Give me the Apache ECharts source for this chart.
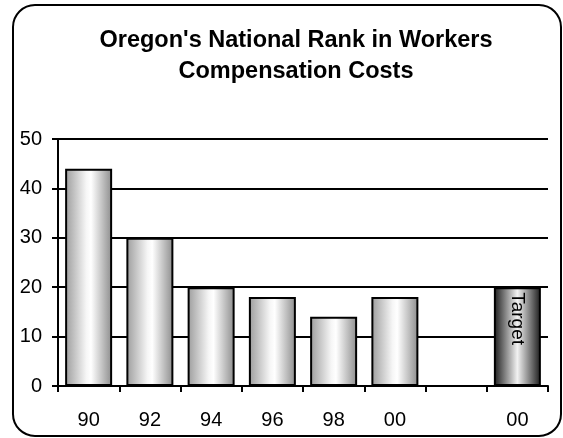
<!DOCTYPE html>
<html>
<head>
<meta charset="utf-8">
<script src="https://cdn.jsdelivr.net/npm/echarts@6/dist/echarts.min.js"></script>
<style>
  html, body { margin: 0; padding: 0; background: #fff; }
  #chart { width: 563px; height: 438px; }
</style>
</head>
<body>
<div id="chart"></div>
<script>
// Survey years (two-digit) plus a gap and the target column
const years = ['90', '92', '94', '96', '98', '00', '', '00'];
// National rank for each year
const rankValues = [44, 30, 20, 18, 14, 18, null, null];
// Target rank shown in the last column
const targetValues = [null, null, null, null, null, null, null, 20];
const yTicks = { min: 0, max: 50, step: 10 };

const FONT = '"Liberation Sans", Arial, sans-serif';

const silver = {
  type: 'linear', x: 0, y: 0, x2: 1, y2: 0,
  colorStops: [
    { offset: 0, color: '#9c9c9c' },
    { offset: 0.45, color: '#f6f6f6' },
    { offset: 0.55, color: '#ffffff' },
    { offset: 1, color: '#8c8c8c' }
  ]
};
const darkSilver = {
  type: 'linear', x: 0, y: 0, x2: 1, y2: 0,
  colorStops: [
    { offset: 0, color: '#1a1a1a' },
    { offset: 0.5, color: '#f2f2f2' },
    { offset: 1, color: '#1a1a1a' }
  ]
};

const chart = echarts.init(document.getElementById('chart'));
chart.setOption({
  animation: false,
  backgroundColor: '#fff',
  title: {
    text: "Oregon's National Rank in Workers\nCompensation Costs",
    left: 291,
    textAlign: 'center',
    top: 20,
    textStyle: { fontFamily: FONT, fontSize: 23.5, fontWeight: 'bold', color: '#000', lineHeight: 31 }
  },
  graphic: [{
    type: 'rect',
    shape: { x: 13, y: 5, width: 548, height: 431, r: 22 },
    style: { fill: 'none', stroke: '#000', lineWidth: 2 },
    silent: true,
    z: 100
  }],
  grid: { left: 58, right: 15, top: 139, bottom: 52 },
  xAxis: {
    type: 'category',
    data: years,
    boundaryGap: true,
    axisLine: { lineStyle: { color: '#000', width: 2 } },
    axisTick: { show: true, length: 6, lineStyle: { color: '#000', width: 2 } },
    axisLabel: { fontFamily: FONT, fontSize: 20, color: '#000', margin: 24, interval: 0 },
    splitLine: { show: false }
  },
  yAxis: {
    type: 'value',
    min: yTicks.min,
    max: yTicks.max,
    interval: yTicks.step,
    axisLine: { show: true, lineStyle: { color: '#000', width: 2 } },
    axisTick: { show: true, length: 6, lineStyle: { color: '#000', width: 2 } },
    axisLabel: { fontFamily: FONT, fontSize: 20, color: '#000', margin: 16 },
    splitLine: { show: true, lineStyle: { color: '#000', width: 2 } }
  },
  series: [
    {
      type: 'bar',
      data: rankValues,
      barWidth: 47,
      barGap: '-100%',
      itemStyle: { color: silver, borderColor: '#000', borderWidth: 2 }
    },
    {
      type: 'bar',
      data: targetValues,
      barWidth: 47,
      itemStyle: { color: darkSilver, borderColor: '#000', borderWidth: 2 },
      label: {
        show: true,
        formatter: 'Target',
        position: 'insideTop',
        rotate: -90,
        align: 'left',
        verticalAlign: 'middle',
        distance: 5,
        fontFamily: FONT,
        fontSize: 19,
        color: '#000'
      }
    }
  ]
});
</script>
</body>
</html>
